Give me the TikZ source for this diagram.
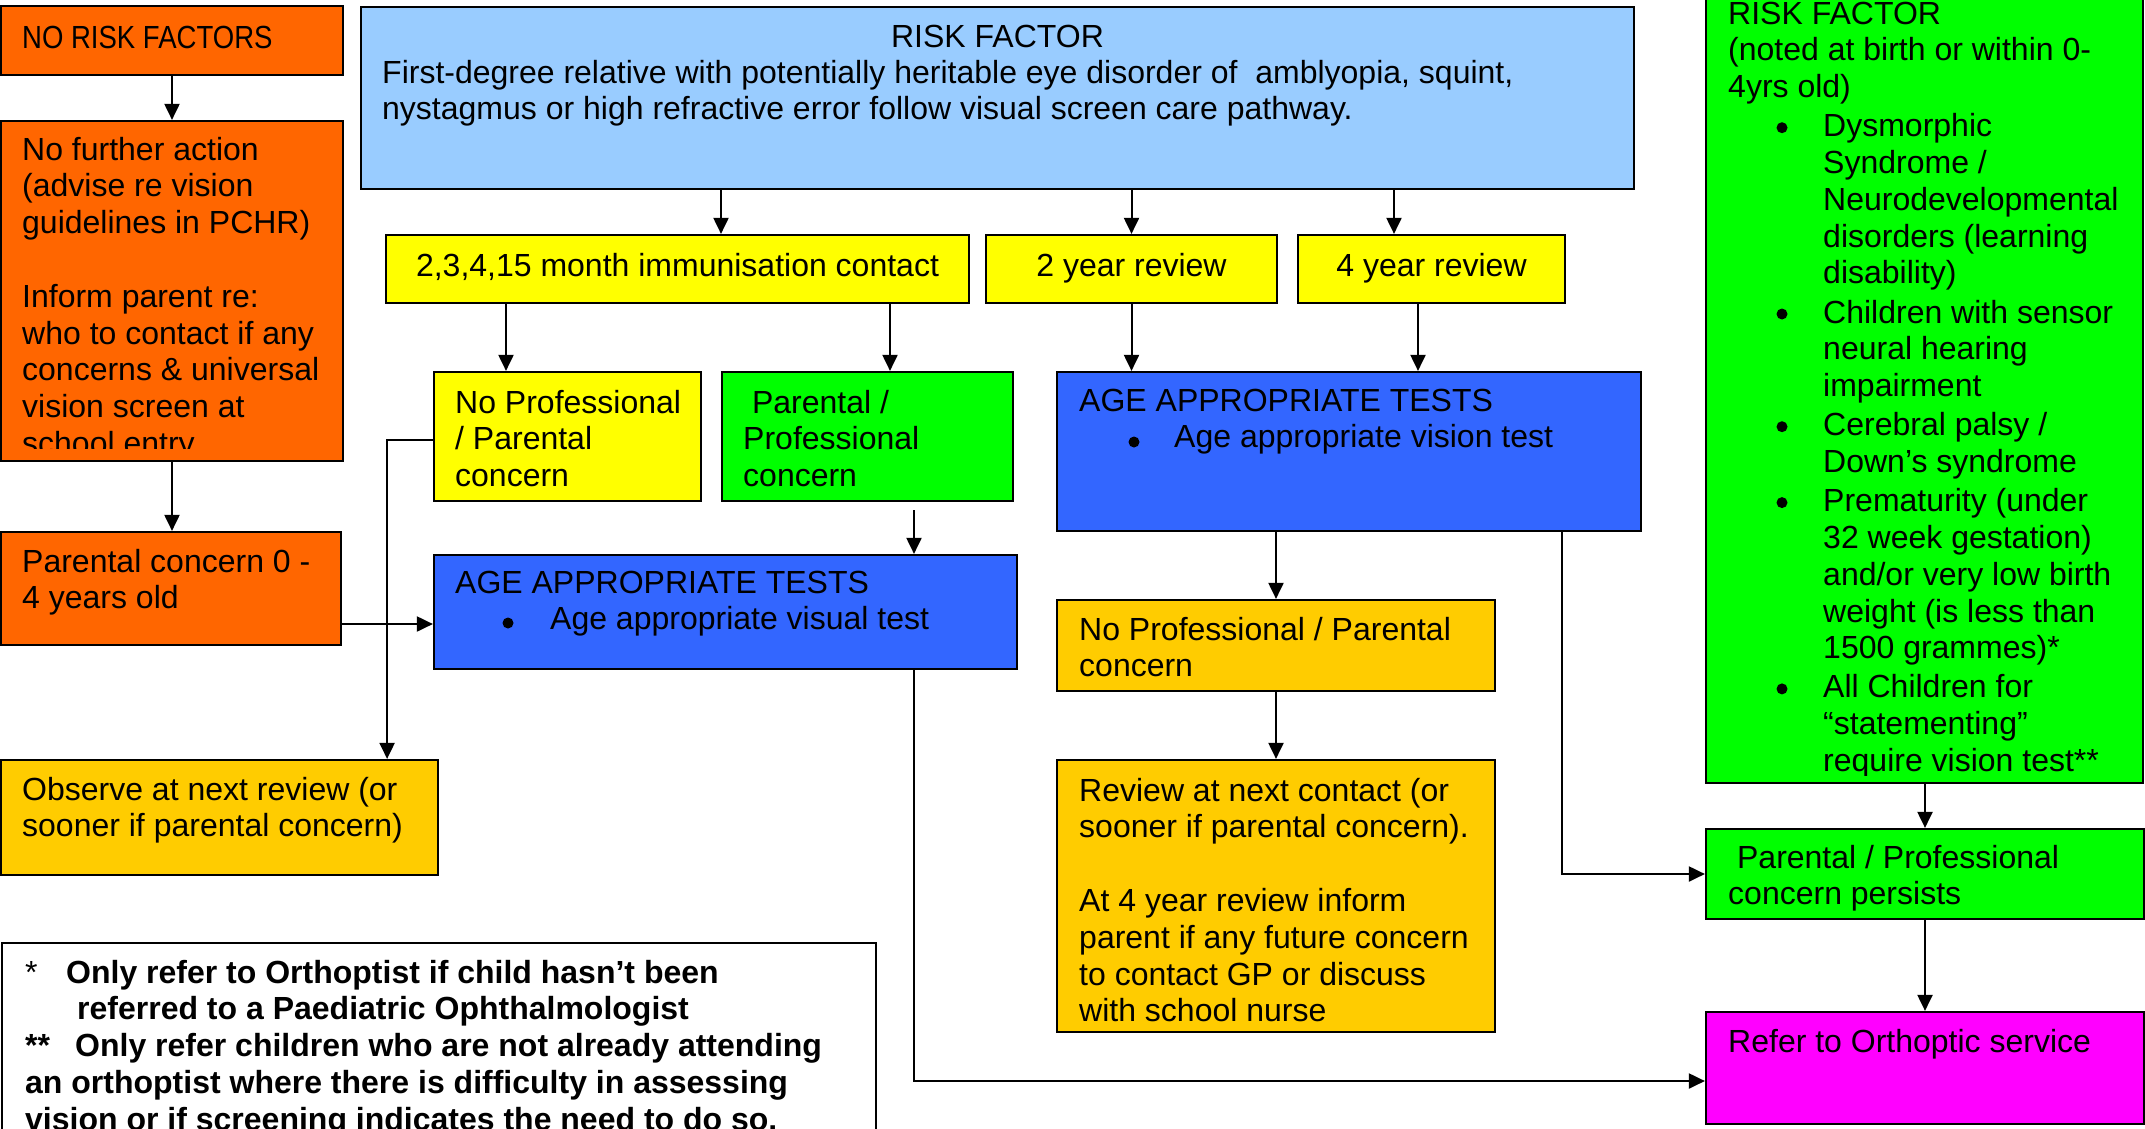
\documentclass[tikz,border=0pt]{standalone}
\usepackage{fontspec}
\setmainfont{Liberation Sans}
\newfontfamily\narrowfont[FakeStretch=0.86]{Liberation Sans}
\usetikzlibrary{arrows.meta}

\definecolor{cOrange}{HTML}{FF6600}
\definecolor{cSky}{HTML}{99CCFF}
\definecolor{cYellow}{HTML}{FFFF00}
\definecolor{cGreen}{HTML}{00FF00}
\definecolor{cBlue}{HTML}{3366FF}
\definecolor{cGold}{HTML}{FFCC00}
\definecolor{cMagenta}{HTML}{FF00FF}

% a box given by its corners (name, x1, y1, x2, y2, fill)
\newcommand\mkbox[6]{%
  \node[box, fill=#6, minimum width={#4-#2}, minimum height={#5-#3}]
    (#1) at ({(#2+#4)/2},{(#3+#5)/2}) {};}
% left-aligned block of lines, anchored at the first baseline
\newcommand\lines[1]{\parbox[t]{1500pt}{\raggedright #1}}
% list indents: the bullet dots themselves are drawn as circles
\newcommand\itembullet{\hspace*{95pt}}
\newcommand\itemhang{\hspace*{95pt}}

\begin{document}
\begin{tikzpicture}[x=1pt,y=-1pt,
  box/.style={draw=black, line width=2.2pt, rectangle, inner sep=0pt},
  txt/.style={inner sep=0pt, anchor=base west, font=\fontsize{32}{36.8}\selectfont},
  ctxt/.style={txt, anchor=base},
  arr/.style={draw=black, line width=2pt, -{Triangle[length=16pt,width=15pt]}},
  dot/.style={fill=black},
]
\useasboundingbox (0,0) rectangle (2145,1128);
\clip (0,0) rectangle (2145,1128);

% ---------- boxes ----------
\mkbox{norisk}{1}{6}{343}{75}{cOrange}
\mkbox{further}{1}{121}{343}{461}{cOrange}
\mkbox{pc}{1}{532}{341}{645}{cOrange}
\mkbox{observe}{1}{760}{438}{875}{cGold}
\mkbox{note}{2}{943}{876}{1150}{white}
\mkbox{risk}{361}{7}{1634}{189}{cSky}
\mkbox{yA}{386}{235}{969}{303}{cYellow}
\mkbox{yB}{986}{235}{1277}{303}{cYellow}
\mkbox{yC}{1298}{235}{1565}{303}{cYellow}
\mkbox{noprof}{434}{372}{701}{501}{cYellow}
\mkbox{ppc}{722}{372}{1013}{501}{cGreen}
\mkbox{blueA}{434}{555}{1017}{669}{cBlue}
\mkbox{blueB}{1057}{372}{1641}{531}{cBlue}
\mkbox{noprofB}{1057}{600}{1495}{691}{cGold}
\mkbox{review}{1057}{760}{1495}{1032}{cGold}
\mkbox{gbig}{1706}{-20}{2143}{783}{cGreen}
\mkbox{persists}{1706}{829}{2144}{919}{cGreen}
\mkbox{refer}{1706}{1012}{2144}{1124}{cMagenta}

% ---------- texts ----------
\node[txt] (norisk-t) at (22,48) {\narrowfont NO RISK FACTORS};
\begin{scope}
  \clip (1,121) rectangle (343,448);
  \node[txt] (further-t) at (22,160) {\lines{No further action\\(advise re vision\\guidelines in PCHR)\\[36.8pt]Inform parent re:\\who to contact if any\\concerns \& universal\\vision screen at\\school entry}};
\end{scope}
\node[txt] (pc-t) at (22,572) {\lines{Parental concern 0 -\\4 years old}};
\node[txt] (observe-t) at (22,800) {\lines{Observe at next review (or\\sooner if parental concern)}};
\node[txt, font=\fontsize{32}{36.8}\selectfont\bfseries] (note-t) at (25,983) {\lines{%
  \makebox[41pt][l]{\mdseries*}Only refer to Orthoptist if child hasn’t been\\
  \hspace*{52pt}referred to a Paediatric Ophthalmologist\\
  \makebox[50pt][l]{**}Only refer children who are not already attending\\
  an orthoptist where there is difficulty in assessing\\
  vision or if screening indicates the need to do so.}};

\node[ctxt] (risk-h) at (997.5,47) {RISK FACTOR};
\node[txt] (risk-t) at (382,83) {\lines{First-degree relative with potentially heritable eye disorder of~ amblyopia, squint,\\nystagmus or high refractive error follow visual screen care pathway.}};

\node[ctxt] (yA-t) at (677.5,276) {2,3,4,15 month immunisation contact};
\node[ctxt] (yB-t) at (1131.5,276) {2 year review};
\node[ctxt] (yC-t) at (1431.5,276) {4 year review};

\node[txt] (noprof-t) at (455,413) {\lines{No Professional\\/ Parental\\concern}};
\node[txt] (ppc-t) at (743,413) {\lines{\hspace*{8.9pt}Parental /\\Professional\\concern}};
\node[txt] (blueA-t) at (455,593) {\lines{AGE APPROPRIATE TESTS\\\itembullet Age appropriate visual test}};
\fill[dot] (508,623) circle[radius=5.5];
\node[txt] (blueB-t) at (1079,411) {\lines{AGE APPROPRIATE TESTS\\\itembullet Age appropriate vision test}};
\fill[dot] (1134,442) circle[radius=5.5];
\node[txt] (noprofB-t) at (1079,640) {\lines{No Professional / Parental\\concern}};
\node[txt] (review-t) at (1079,801) {\lines{Review at next contact (or\\sooner if parental concern).\\[36.8pt]At 4 year review inform\\parent if any future concern\\to contact GP or discuss\\with school nurse}};

\begin{scope}
  \clip (1706,0) rectangle (2143,775);
  \node[txt] (gbig-t) at (1728,24) {\lines{RISK FACTOR\\
    (noted at birth or within 0-\\
    4yrs old)\\[2.3pt]
    \itembullet Dysmorphic\\ \itemhang Syndrome /\\ \itemhang Neurodevelopmental\\ \itemhang disorders (learning\\ \itemhang disability)\\[2.3pt]
    \itembullet Children with sensor\\ \itemhang neural hearing\\ \itemhang impairment\\[2.3pt]
    \itembullet Cerebral palsy /\\ \itemhang Down’s syndrome\\[2.3pt]
    \itembullet Prematurity (under\\ \itemhang 32 week gestation)\\ \itemhang and/or very low birth\\ \itemhang weight (is less than\\ \itemhang 1500 grammes)*\\[2.3pt]
    \itembullet All Children for\\ \itemhang “statementing”\\ \itemhang require vision test**}};
  \foreach \by in {127.7,314,426.7,502.6,688.9}
    \fill[dot] (1782,\by) circle[radius=5.5];
\end{scope}
\node[txt] (persists-t) at (1728,868) {\lines{\hspace*{8.9pt}Parental / Professional\\concern persists}};
\node[txt] (refer-t) at (1728,1052) {Refer to Orthoptic service};

% ---------- connectors ----------
\coordinate (pA) at ([xshift=43.5pt]yA.north);
\coordinate (pC) at ([xshift=-37.5pt]yC.north);
\coordinate (pN) at ([xshift=-61.5pt]noprof.north);
\coordinate (pG) at ([xshift=22.5pt]ppc.north);
\coordinate (pY) at ([xshift=-13.5pt]yC.south);
\coordinate (pO) at ([xshift=-52pt]observe.north east);
\coordinate (pW) at ([yshift=-3.5pt]noprof.west);
\coordinate (pP) at ([xshift=46.5pt]ppc.south);
\coordinate (pB) at ([yshift=-12pt]blueA.west);
\coordinate (pR) at ([yshift=-13pt]refer.west);
\coordinate (pQ) at ([xshift=213pt]blueB.south);

\draw[arr] (norisk.south) -- (norisk.south |- further.north);
\draw[arr] (further.south) -- (further.south |- pc.north);
\draw[arr] (pA |- risk.south) -- (pA);
\draw[arr] (yB.north |- risk.south) -- (yB.north);
\draw[arr] (pC |- risk.south) -- (pC);
\draw[arr] (pN |- yA.south) -- (pN);
\draw[arr] (pG |- yA.south) -- (pG);
\draw[arr] (yB.south) -- (yB.south |- blueB.north);
\draw[arr] (pY) -- (pY |- blueB.north);
\draw[arr] (pW) -| (pO);
\draw[arr] ([yshift=-8pt]pP) -- (pP |- blueA.north);
\draw[arr] (pc.east |- pB) -- (pB);
\draw[arr] (pP |- blueA.south) |- (pR);
\draw[arr] (noprofB.north |- blueB.south) -- (noprofB.north);
\draw[arr] (noprofB.south) -- (review.north);
\draw[arr] (pQ) |- (persists.west);
\draw[arr] (persists.north |- gbig.south) -- (persists.north);
\draw[arr] (persists.south) -- (refer.north);
\end{tikzpicture}
\end{document}
